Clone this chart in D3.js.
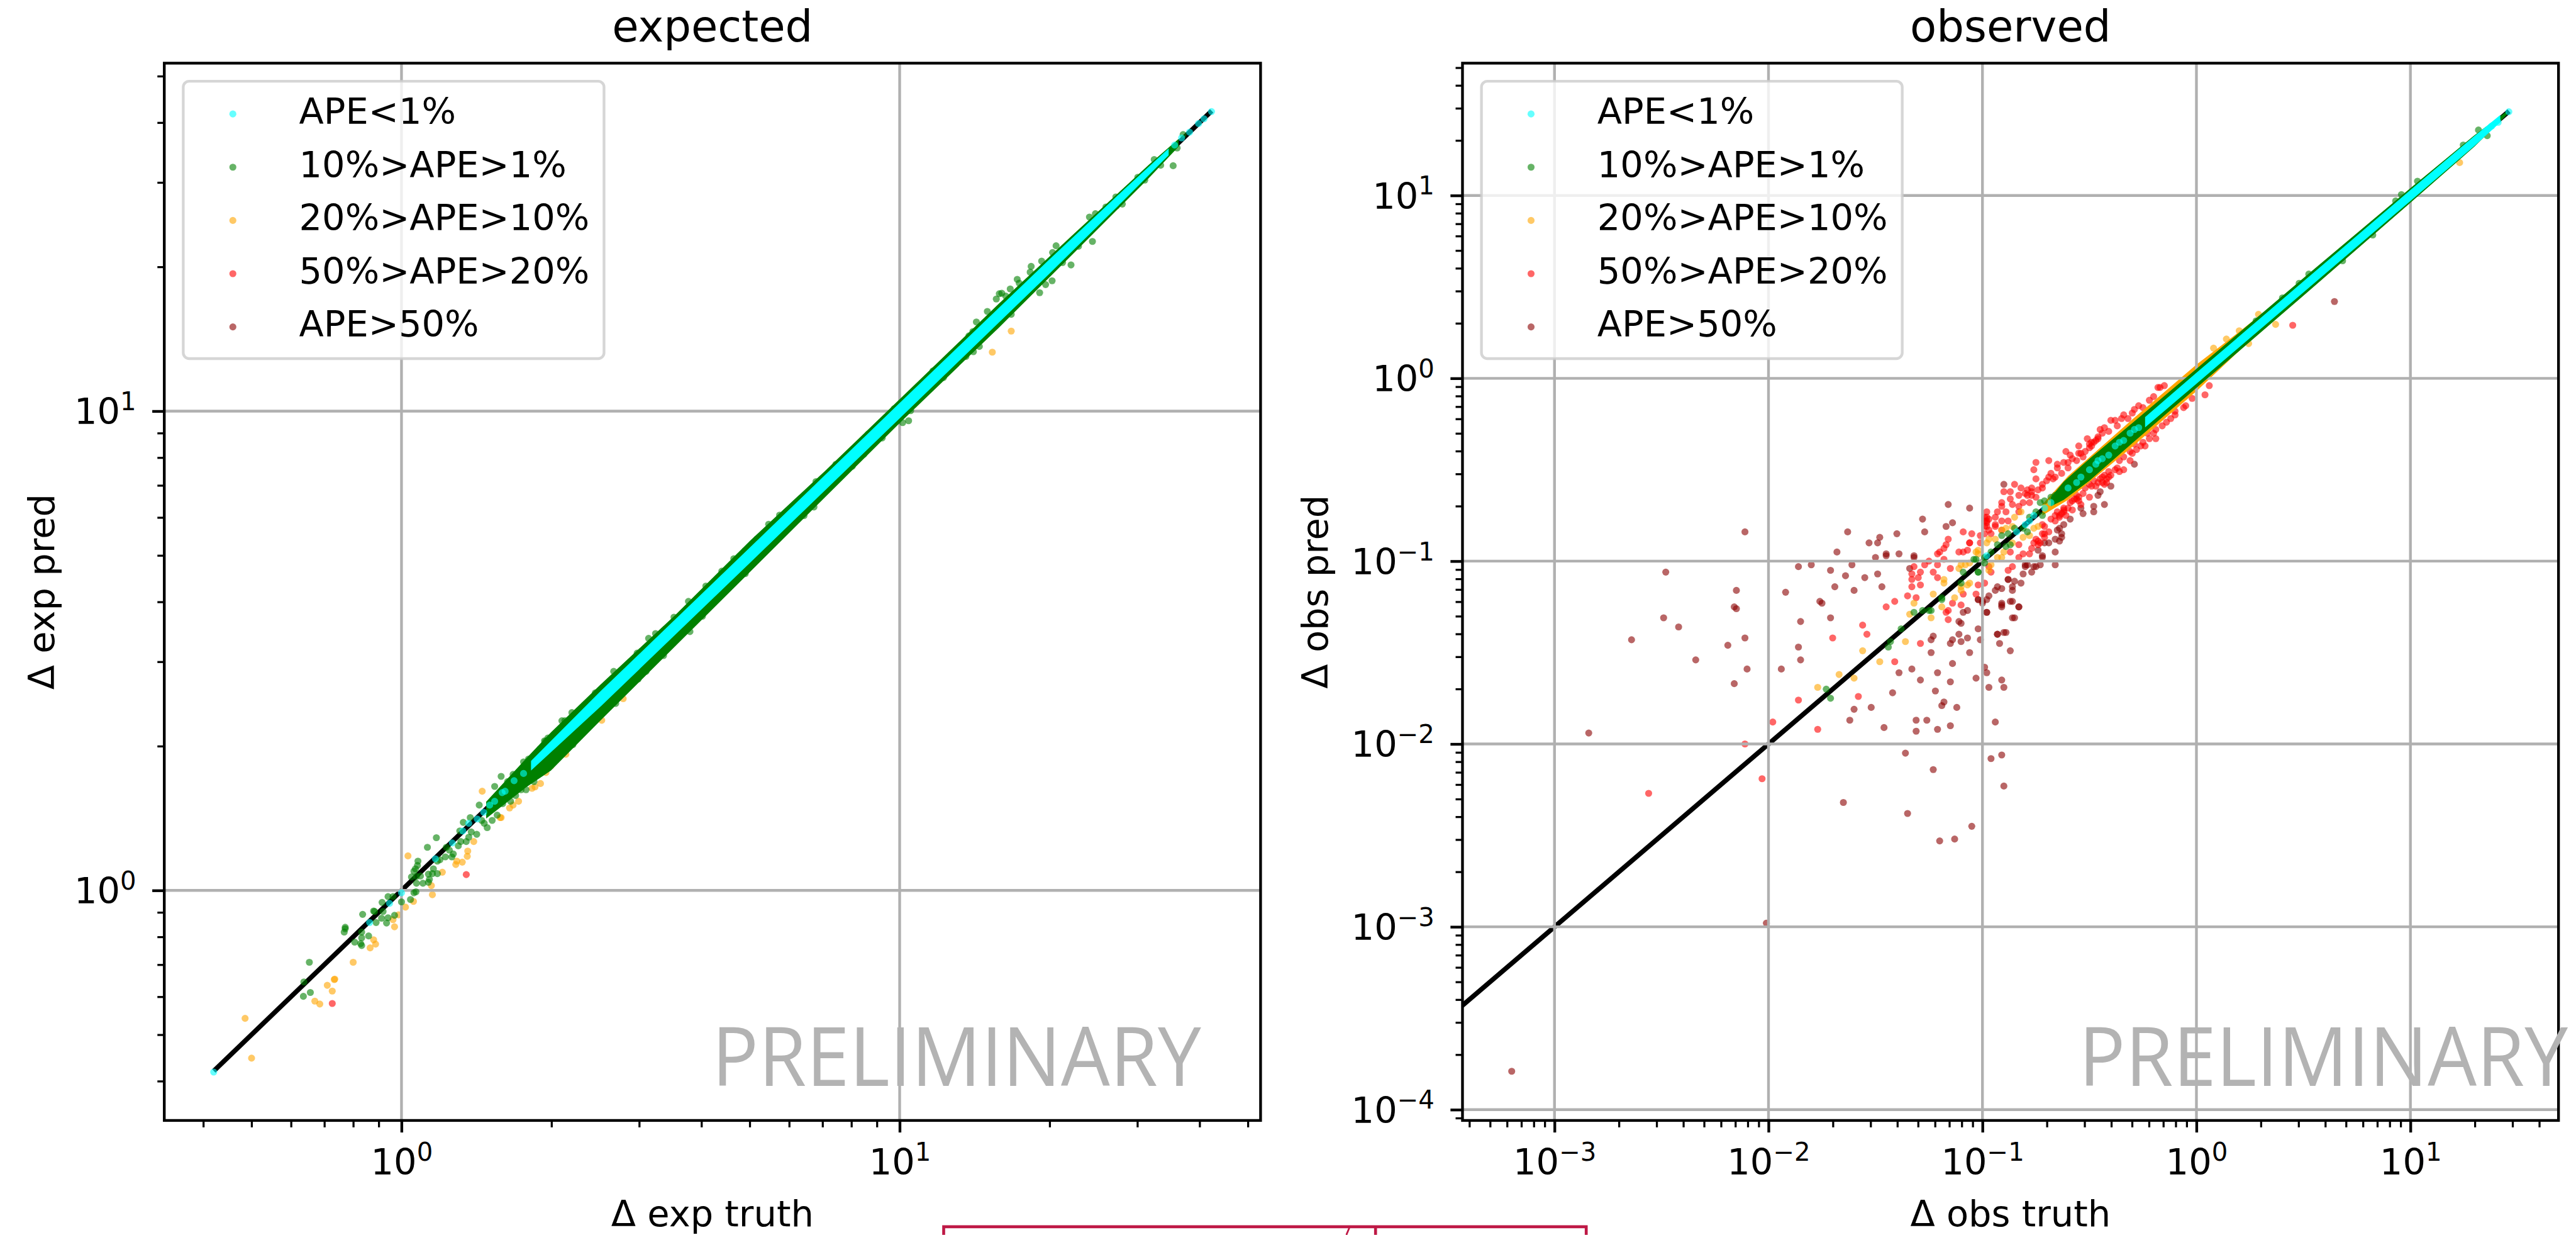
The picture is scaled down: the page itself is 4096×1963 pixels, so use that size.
<!DOCTYPE html>
<html>
<head>
<meta charset="utf-8">
<script src="https://cdn.jsdelivr.net/npm/d3@7"></script>
<style>
  html, body { margin: 0; padding: 0; background: #fff; overflow: hidden; }
  text { font-family: "DejaVu Sans", sans-serif; fill: #000; }
</style>
</head>
<body>
<div id="chart"></div>
<script>
'use strict';

// legend
const legendLabels = ['APE<1%', '10%>APE>1%', '20%>APE>10%', '50%>APE>20%', 'APE>50%'];
const legendColors = ['#00ffff', '#008000', '#ffa500', '#ff0000', '#8b0000'];

// axis limits and decade ticks (limits are log10 of the value)
const expXLimits = [-0.4762, 1.7245];
const expYLimits = [-0.48, 1.726];
const obsXLimits = [-3.43, 1.692];
const obsYLimits = [-4.059, 1.7236];
const expXDecades = [1, 10];
const expYDecades = [1, 10];
const obsXDecades = [0.001, 0.01, 0.1, 1, 10];
const obsYDecades = [0.0001, 0.001, 0.01, 0.1, 1, 10];

// y = x reference lines, real values
const expLine = [0.42, 42.3];
const obsLine = [0.00037, 28.9];

// overplotted solid parts of the clouds: [log10 truth, low log10 pred, high log10 pred]
const expCyanBand = [[0.26, 0.25, 0.27], [0.4, 0.384, 0.416], [0.7, 0.684, 0.716], [1, 0.985, 1.017], [1.3, 1.286, 1.316], [1.45, 1.44, 1.462], [1.54, 1.534, 1.548]];
const expGreenBand = [[0.17, 0.15, 0.185], [0.25, 0.215, 0.275], [0.3, 0.25, 0.33], [0.4, 0.355, 0.43], [0.55, 0.51, 0.575], [0.7, 0.665, 0.73], [0.85, 0.82, 0.875], [1, 0.975, 1.025], [1.2, 1.175, 1.225], [1.35, 1.33, 1.37], [1.5, 1.486, 1.514], [1.56, 1.552, 1.568]];
const obsCyanBand = [[-0.24, -0.268, -0.212], [0, -0.03, 0.03], [0.5, 0.47, 0.53], [1, 0.97, 1.03], [1.3, 1.272, 1.326], [1.42, 1.4, 1.44]];
const obsGreenBand = [[-0.68, -0.7, -0.65], [-0.62, -0.665, -0.565], [-0.5, -0.56, -0.44], [-0.3, -0.355, -0.245], [0, -0.052, 0.052], [0.5, 0.452, 0.548], [1, 0.96, 1.04], [1.3, 1.268, 1.33], [1.45, 1.44, 1.46]];
const obsOrangeBand = [[-0.72, -0.75, -0.69], [-0.6, -0.665, -0.535], [-0.3, -0.375, -0.225], [0, -0.07, 0.075], [0.2, 0.15, 0.255], [0.4, 0.365, 0.44], [0.6, 0.585, 0.62]];

// expected panel points: [log10 truth, log10 pred]
const expCyan = [[-0.377, -0.379], [-0.064, -0.067], [-0.024, -0.027], [0, -0.005], [0.068, 0.066], [0.102, 0.099], [0.123, 0.124], [0.135, 0.14], [0.152, 0.149], [0.165, 0.163], [0.177, 0.178], [0.187, 0.186], [0.202, 0.204], [0.208, 0.207], [0.226, 0.229], [0.245, 0.244], [1.552, 1.555], [1.566, 1.57], [1.582, 1.582], [1.6, 1.6], [1.611, 1.61], [1.626, 1.625]];
const expGreen = [[-0.185, -0.15], [-0.196, -0.191], [-0.183, -0.213], [-0.197, -0.221], [-0.113, -0.077], [-0.115, -0.087], [-0.113, -0.08], [-0.078, -0.05], [-0.056, -0.043], [-0.054, -0.044], [-0.039, -0.025], [-0.027, -0.013], [-0.017, -0.013], [0, -0.024], [-0.037, -0.044], [-0.04, -0.058], [-0.027, -0.057], [-0.014, -0.052], [-0.03, -0.068], [-0.051, -0.067], [-0.066, -0.095], [-0.08, -0.087], [-0.08, -0.099], [-0.094, -0.108], [-0.082, -0.111], [-0.08, -0.115], [0.018, -0.019], [0.025, -0.005], [0.029, -0.003], [0.02, 0.028], [0.03, 0.015], [0.043, 0.015], [0.03, 0.029], [0.038, 0.03], [0.025, 0.04], [0.028, 0.045], [0.032, 0.052], [0.033, 0.061], [0.054, 0.017], [0.056, 0.023], [0.054, 0.034], [0.062, 0.035], [0.064, 0.045], [0.072, 0.035], [0.052, 0.09], [0.07, 0.11], [0.072, 0.061], [0.077, 0.064], [0.088, 0.07], [0.101, 0.07], [0.096, 0.084], [0.09, 0.09], [0.104, 0.076], [0.114, 0.093], [0.119, 0.102], [0.13, 0.102], [0.135, 0.111], [0.14, 0.122], [0.151, 0.117], [0.124, 0.142], [0.138, 0.152], [0.117, 0.124], [0.156, 0.178], [0.166, 0.14], [0.172, 0.131], [0.182, 0.146], [0.192, 0.157], [0.203, 0.181], [0.161, 0.146], [0.2, 0.238], [0.187, 0.217], [0.224, 0.242], [0.213, 0.227], [0.211, 0.198], [0.219, 0.186], [0.229, 0.198], [0.24, 0.21], [0.25, 0.21], [0.266, 0.227], [0.245, 0.268], [0.255, 0.274], [0.287, 0.312], [0.294, 0.318], [0.289, 0.311], [0.278, 0.295], [0.342, 0.371], [0.322, 0.354], [0.328, 0.354], [0.389, 0.412], [0.426, 0.457], [0.496, 0.526], [0.51, 0.536], [0.473, 0.495], [0.611, 0.635], [0.576, 0.603], [0.547, 0.57], [0.526, 0.49], [0.579, 0.54], [0.604, 0.572], [0.491, 0.457], [0.475, 0.441], [0.43, 0.39], [0.344, 0.304], [0.65, 0.625], [0.69, 0.661], [0.69, 0.709], [0.667, 0.692], [0.643, 0.666], [0.713, 0.733], [0.737, 0.764], [0.759, 0.783], [0.828, 0.8], [0.808, 0.782], [0.832, 0.853], [0.872, 0.889], [0.905, 0.885], [0.928, 0.91], [0.965, 0.944], [0.937, 0.952], [1.006, 0.976], [1.018, 0.98], [1.022, 1.001], [0.989, 1.005], [1.088, 1.07], [1.067, 1.084], [1.133, 1.114], [1.16, 1.135], [1.148, 1.124], [1.139, 1.157], [1.147, 1.166], [1.154, 1.186], [1.176, 1.208], [1.224, 1.202], [1.194, 1.234], [1.2, 1.245], [1.205, 1.246], [1.213, 1.24], [1.222, 1.255], [1.236, 1.275], [1.24, 1.267], [1.264, 1.302], [1.262, 1.29], [1.281, 1.247], [1.285, 1.313], [1.306, 1.272], [1.293, 1.264], [1.307, 1.331], [1.314, 1.345], [1.344, 1.305], [1.327, 1.31], [1.387, 1.354], [1.381, 1.405], [1.393, 1.412], [1.359, 1.344], [1.435, 1.428], [1.447, 1.432], [1.434, 1.447], [1.414, 1.426], [1.492, 1.482], [1.478, 1.488], [1.549, 1.512], [1.524, 1.513], [1.511, 1.525], [1.557, 1.549], [1.569, 1.577]];
const expOrange = [[-0.314, -0.267], [-0.301, -0.35], [-0.097, -0.15], [-0.134, -0.185], [-0.135, -0.186], [-0.149, -0.198], [-0.139, -0.21], [-0.174, -0.231], [-0.164, -0.237], [-0.056, -0.103], [-0.052, -0.112], [-0.063, -0.12], [-0.017, -0.061], [-0.014, -0.076], [-0.006, -0.051], [0.008, -0.035], [0.024, -0.023], [0.062, -0.009], [0.06, 0.01], [0.013, 0.072], [0.082, 0.038], [0.109, 0.054], [0.111, 0.061], [0.122, 0.059], [0.132, 0.071], [0.133, 0.082], [0.145, 0.102], [0.162, 0.207], [0.198, 0.152], [0.2, 0.152], [0.217, 0.172], [0.224, 0.178], [0.235, 0.186], [0.262, 0.213], [0.268, 0.216], [0.279, 0.223], [0.29, 0.246], [0.3, 0.26], [0.33, 0.284], [0.402, 0.355], [0.445, 0.4], [1.186, 1.123], [1.224, 1.167]];
const expRed = [[-0.139, -0.236], [0.13, 0.033]];

// observed panel points: [log10 truth, log10 pred]
const obsCyan = [[-0.98, -0.97], [-0.84, -0.84], [-0.8, -0.8], [-0.78, -0.78], [-0.76, -0.75], [-0.71, -0.71], [-0.68, -0.68], [-0.6, -0.6], [-0.56, -0.57], [-0.54, -0.54], [-0.5, -0.5], [-0.47, -0.47], [-0.46, -0.45], [-0.44, -0.44], [-0.41, -0.42], [-0.38, -0.37], [-0.36, -0.35], [-0.34, -0.34], [-0.31, -0.3], [-0.29, -0.28], [-0.27, -0.27], [1.38, 1.38], [1.41, 1.4], [1.46, 1.458]];
const obsGreen = [[-1.32, -1.28], [-1.28, -1.27], [-1.25, -1.27], [-1.24, -1.27], [-1.19, -1.2], [-1.19, -1.21], [-1.1, -1.12], [-1.09, -1.06], [-1.02, -1.06], [-1.04, -0.99], [-1.73, -1.7], [-1.71, -1.75], [-1.38, -1.37], [-1.43, -1.44], [-1.44, -1.47], [-0.99, -0.98], [-0.96, -0.95], [-0.93, -0.91], [-0.91, -0.86], [-0.88, -0.85], [-0.89, -0.92], [-0.87, -0.91], [-0.85, -0.82], [-0.81, -0.82], [-0.79, -0.84], [-0.78, -0.76], [-0.75, -0.73], [-0.72, -0.75], [-0.73, -0.68], [-0.71, -0.67], [-0.68, -0.65], [-0.66, -0.64], [-1.02, -1.06], [-1.03, -0.99], [-0.99, -1.01], [1.318, 1.358], [1.359, 1.327], [1.247, 1.276], [1.033, 1.078], [0.958, 1.005], [0.931, 0.97], [0.824, 0.784], [0.683, 0.643], [0.525, 0.57], [0.48, 0.52], [0.402, 0.44], [0.279, 0.314]];
const obsOrange = [[-1.77, -1.69], [-1.67, -1.62], [-1.6, -1.64], [-1.56, -1.49], [-1.48, -1.55], [-1.36, -1.44], [-1.34, -1.29], [-1.32, -1.23], [-1.23, -1.18], [-1.24, -1.31], [-1.19, -1.25], [-1.13, -1.2], [-1.18, -1.1], [-1.18, -1.12], [-1.1, -1.16], [-1.1, -1.14], [-1.07, -1.13], [-1.06, -1.12], [-1.11, -1.04], [-1.1, -1.02], [-1.08, -1.02], [-1.06, -1.01], [-1.02, -0.94], [-1.03, -0.95], [-1.02, -0.96], [-0.97, -0.88], [-0.94, -0.88], [-0.98, -0.9], [-0.9, -0.95], [-0.93, -0.98], [-0.91, -0.98], [-0.86, -0.9], [-0.81, -0.87], [-0.78, -0.86], [-0.76, -0.82], [-0.74, -0.81], [-0.91, -0.83], [-0.89, -0.82], [-0.86, -0.81], [-0.85, -0.76], [-0.82, -0.73], [-0.96, -1.02], [-0.97, -1.05], [0.37, 0.295], [0.29, 0.35], [0.2, 0.26], [0.08, 0.165], [0.14, 0.215], [1.23, 1.18], [0.244, 0.19]];
const obsRed = [[-0.18, -0.05], [-0.29, -0.17], [-0.32, -0.22], [-0.3, -0.19], [-0.4, -0.23], [-0.38, -0.23], [-0.37, -0.26], [-0.45, -0.28], [-0.41, -0.29], [-0.51, -0.33], [-0.46, -0.33], [-0.49, -0.35], [-0.55, -0.37], [-0.5, -0.38], [-0.52, -0.4], [-0.54, -0.41], [-0.53, -0.43], [-0.61, -0.4], [-0.59, -0.42], [-0.56, -0.45], [-0.69, -0.45], [-0.65, -0.47], [-0.62, -0.46], [-0.6, -0.49], [-0.65, -0.49], [-0.63, -0.52], [-0.68, -0.52], [-0.66, -0.54], [-0.69, -0.54], [-0.75, -0.46], [-0.76, -0.5], [-0.75, -0.55], [-0.72, -0.58], [-0.74, -0.61], [-0.85, -0.58], [-0.9, -0.62], [-0.87, -0.62], [-0.82, -0.6], [-0.87, -0.66], [-0.83, -0.64], [-0.77, -0.6], [-0.77, -0.62], [-0.79, -0.64], [-0.81, -0.68], [-0.75, -0.65], [-0.91, -0.68], [-0.91, -0.7], [-0.86, -0.69], [-0.83, -0.7], [-0.78, -0.68], [-0.83, -0.73], [-0.93, -0.73], [-0.89, -0.73], [-0.98, -0.73], [-0.98, -0.76], [-0.99, -0.76], [-0.94, -0.76], [-0.91, -0.78], [-0.88, -0.78], [-0.94, -0.8], [-0.98, -0.78], [-0.98, -0.81], [-0.94, -0.81], [-0.97, -0.83], [-0.91, -0.83], [-0.96, -0.85], [-0.99, -0.85], [-1.01, -0.86], [-1.01, -0.9], [-1.09, -0.84], [-1.05, -0.85], [-1.16, -0.88], [-1.17, -0.91], [-1.06, -0.9], [-1.06, -0.9], [-1.18, -0.93], [-1.2, -0.95], [-1.21, -0.96], [-1.11, -0.95], [-1.09, -0.95], [-1.07, -0.94], [-1.18, -0.99], [-1.25, -1], [-1.32, -1.03], [-1.27, -1.02], [-1.21, -1.02], [-1.15, -1.04], [-1.33, -1.07], [-1.29, -1.06], [-1.23, -1.06], [-1.3, -1.09], [-1.21, -1.09], [-1.33, -1.1], [-1.29, -1.13], [-1.33, -1.14], [-1.35, -1.19], [-1.31, -1.2], [-1.41, -1.22], [-1.45, -1.25], [-0.19, -0.33], [-0.19, -0.28], [-0.23, -0.3], [-0.26, -0.37], [-0.24, -0.37], [-0.29, -0.36], [-0.31, -0.4], [-0.34, -0.43], [-0.36, -0.45], [-0.31, -0.45], [-0.37, -0.49], [-0.36, -0.51], [-0.34, -0.5], [-0.41, -0.51], [-0.4, -0.53], [-0.44, -0.54], [-0.42, -0.57], [-0.46, -0.57], [-0.48, -0.56], [-0.5, -0.58], [-0.49, -0.59], [-0.52, -0.6], [-0.53, -0.63], [-0.56, -0.64], [-0.5, -0.65], [-0.57, -0.66], [-0.59, -0.68], [-0.54, -0.69], [-0.62, -0.71], [-0.62, -0.73], [-0.65, -0.73], [-0.61, -0.75], [-0.66, -0.75], [-0.64, -0.76], [-0.68, -0.77], [-0.66, -0.78], [-0.72, -0.8], [-0.71, -0.81], [-0.69, -0.84], [-0.71, -0.85], [-0.72, -0.85], [-0.71, -0.87], [-0.75, -0.88], [-0.76, -0.9], [-0.74, -0.91], [-0.77, -0.93], [-0.78, -0.96], [-0.81, -0.96], [-0.87, -0.95], [-0.83, -0.98], [-0.86, -1.03], [-0.88, -1.05], [-0.83, -0.91], [-0.97, -1.03], [-0.96, -1.06], [-0.99, -1.12], [-1.02, -1.13], [-1.03, -1.18], [-1.09, -1.18], [-1.14, -1.23], [-1.1, -1.24], [-1.16, -1.27], [-1.17, -1.28], [-1.16, -1.32], [-0.43, -0.53], [-0.42, -0.55], [-0.44, -0.57], [-0.41, -0.54], [-0.45, -0.55], [-0.43, -0.58], [-0.62, -0.72], [-0.63, -0.74], [-0.6, -0.71], [-0.64, -0.75], [-0.58, -0.67], [-0.56, -0.66], [-0.55, -0.65], [-0.8, -0.63], [-0.79, -0.61], [-0.77, -0.64], [-0.99, -0.78], [-0.98, -0.79], [-0.99, -0.81], [-0.97, -0.77], [-0.5, -0.36], [-0.49, -0.37], [-0.48, -0.35], [-0.46, -0.32], [-0.73, -0.9], [-0.74, -0.89], [-1.56, -1.35], [-1.54, -1.4], [-1.7, -1.42], [-1.41, -1.55], [-1.58, -1.74], [-1.86, -1.76], [-1.98, -1.88], [-1.77, -1.92], [-2.11, -2], [-1.29, -1.45], [-2.56, -2.27], [-2.03, -2.19], [0.45, 0.29], [0.06, -0.04], [0.04, -0.09], [-0.17, -0.05], [-0.15, -0.04], [-0.05, -0.15], [-0.02, -0.11], [-0.6, -0.46], [-0.58, -0.44], [-0.55, -0.41], [-0.47, -0.34], [-0.44, -0.3], [-0.43, -0.27], [-0.35, -0.22], [-0.34, -0.2], [-0.27, -0.15], [-0.25, -0.16], [-0.22, -0.12], [-0.2, -0.1], [-0.7, -0.56], [-0.72, -0.6], [-0.67, -0.55], [-0.3, -0.41], [-0.28, -0.39], [-0.25, -0.35], [-0.22, -0.33], [-0.2, -0.3], [-0.16, -0.26], [-0.14, -0.24], [-0.12, -0.22], [-0.1, -0.2], [-0.38, -0.5], [-0.47, -0.59], [-0.55, -0.67], [-0.58, -0.72], [-0.1, -0.18], [-0.06, -0.16]];
const obsBrown = [[-2.11, -0.84], [-1.63, -0.84], [-1.68, -0.95], [-1.53, -0.9], [-1.48, -0.87], [-1.49, -0.9], [-1.4, -0.85], [-1.45, -0.96], [-1.45, -0.97], [-1.39, -0.96], [-1.5, -0.98], [-1.28, -0.77], [-1.27, -0.84], [-1.17, -0.81], [-1.14, -0.79], [-1.16, -0.69], [-1.06, -0.71], [-1.32, -0.97], [-1.32, -0.98], [-1.86, -1.03], [-1.8, -1.02], [-1.71, -1.05], [-1.61, -1.02], [-1.64, -1.08], [-1.55, -1.09], [-1.49, -1.07], [-1.69, -1.14], [-1.6, -1.16], [-1.47, -1.14], [-1.34, -1.04], [-2.15, -1.16], [-1.92, -1.17], [-2.16, -1.25], [-2.15, -1.26], [-1.76, -1.22], [-1.75, -1.23], [-1.85, -1.33], [-1.71, -1.31], [-2.11, -1.42], [-2.19, -1.46], [-1.86, -1.47], [-1.85, -1.54], [-2.1, -1.59], [-1.94, -1.59], [-2.16, -1.67], [-1.02, -1.21], [-1, -1.22], [-1.09, -1.28], [-1.07, -1.27], [-1.11, -1.33], [-1.1, -1.34], [-1.02, -1.37], [-1.11, -1.4], [-1.07, -1.42], [-1.23, -1.41], [-1.24, -1.43], [-1.01, -1.43], [-1.14, -1.43], [-1.15, -1.45], [-1.1, -1.44], [-1.24, -1.5], [-1.06, -1.5], [-1.14, -1.56], [-1.33, -1.59], [-1.39, -1.61], [-1.21, -1.61], [-1.29, -1.65], [-1.15, -1.66], [-1.03, -1.64], [-1.42, -1.72], [-1.22, -1.71], [-1.18, -1.77], [-1.19, -1.79], [-1.12, -1.8], [-1.6, -1.81], [-1.52, -1.8], [-1.62, -1.87], [-1.46, -1.91], [-1.31, -1.87], [-1.26, -1.87], [-1.31, -1.93], [-1.21, -1.92], [-1.15, -1.9], [-1.36, -2.05], [-0.96, -2.08], [-0.91, -2.06], [-1.23, -2.14], [-0.9, -2.23], [-1.65, -2.32], [-1.35, -2.38], [-1.05, -2.45], [-1.2, -2.53], [-1.13, -2.52], [-2.84, -1.94], [-0.94, -1.88], [-0.9, -1.69], [-0.97, -1.69], [-0.91, -1.65], [-0.98, -1.61], [-0.99, -1.58], [-0.87, -1.49], [-0.92, -1.45], [-0.9, -1.39], [-0.93, -1.4], [-0.86, -1.31], [-0.83, -1.25], [-0.87, -1.22], [-0.98, -1.28], [-0.91, -1.24], [-2.48, -1.06], [-2.49, -1.31], [-2.42, -1.36], [-2.64, -1.43], [-2.34, -1.54], [-3.2, -3.79], [-2.01, -2.98], [0.645, 0.42], [-0.9, -0.58], [-0.29, -0.47], [-0.4, -0.59], [-0.46, -0.64], [-0.45, -0.62], [-0.43, -0.69], [-0.48, -0.7], [-0.48, -0.73], [-0.54, -0.71], [-0.53, -0.74], [-0.59, -0.77], [-0.62, -0.8], [-0.64, -0.82], [-0.65, -0.83], [-0.63, -0.85], [-0.66, -0.88], [-0.63, -0.87], [-0.64, -0.89], [-0.69, -0.9], [-0.71, -0.9], [-0.66, -0.95], [-0.74, -0.94], [-0.72, -0.97], [-0.72, -0.98], [-0.66, -1.02], [-0.73, -1.02], [-0.75, -1.03], [-0.76, -1.03], [-0.79, -1.02], [-0.8, -1.02], [-0.8, -1.03], [-0.77, -1.06], [-0.81, -1.07], [-0.88, -1.1], [-0.88, -1.1], [-0.85, -1.11], [-0.86, -1.14], [-0.86, -1.16], [-0.82, -1.12], [-0.91, -1.15], [-0.93, -1.14], [-0.94, -1.16], [-0.97, -1.19], [-0.98, -1.21], [-1.02, -1.21], [-1, -1.23], [-0.86, -1.22], [-0.91, -1.23], [-0.91, -1.25], [-0.83, -1.25], [-0.85, -1.31], [-0.98, -1.28], [-0.89, -1.39], [-0.93, -1.4]];

// page is laid out in the reference's own pixels, the viewBox does the 0.927
const svg = d3.select('#chart').append('svg')
    .attr('width', 4096)
    .attr('height', 1963)
    .attr('viewBox', '0 0 4414 2115')
    .style('display', 'block');

const fontSize = 61.9;
const dotRadius = 6;
const axesTop = 108, axesBottom = 1919;

function exponentLabel(sel, value) {
    let e = Math.round(Math.log10(value));
    sel.text(null);
    sel.append('tspan').text('10');
    sel.append('tspan')
        .attr('dy', -24)
        .attr('font-size', fontSize * 0.7)
        .text(String(e).replace('-', '\u2212'));
}

function isDecade(v) {
    let l = Math.log10(v);
    return Math.abs(l - Math.round(l)) < 1e-9;
}

function drawPanel(p) {
    let x = d3.scaleLog()
        .domain(p.xLimits.map(v => Math.pow(10, v)))
        .range([p.left, p.right]);
    let y = d3.scaleLog()
        .domain(p.yLimits.map(v => Math.pow(10, v)))
        .range([axesBottom, axesTop]);
    let px = d => x(Math.pow(10, d[0]));
    let py = d => y(Math.pow(10, d[1]));

    let clipId = 'clip-' + p.name;
    svg.append('clipPath').attr('id', clipId)
        .append('rect')
        .attr('x', p.left).attr('y', axesTop)
        .attr('width', p.right - p.left).attr('height', axesBottom - axesTop);

    let plot = svg.append('g').attr('clip-path', 'url(#' + clipId + ')');

    let band = d3.area()
        .x(d => x(Math.pow(10, d[0])))
        .y0(d => y(Math.pow(10, d[1])))
        .y1(d => y(Math.pow(10, d[2])));

    function dots(data, color) {
        plot.append('g').selectAll('circle')
            .data(data)
            .join('circle')
            .attr('cx', px)
            .attr('cy', py)
            .attr('r', dotRadius)
            .attr('fill', color)
            .attr('fill-opacity', 0.6);
    }

    function solid(data, color) {
        if (!data) return;
        plot.append('path').datum(data).attr('d', band).attr('fill', color);
    }

    // y = x line
    plot.append('line')
        .attr('x1', x(p.line[0])).attr('y1', y(p.line[0]))
        .attr('x2', x(p.line[1])).attr('y2', y(p.line[1]))
        .attr('stroke', '#000')
        .attr('stroke-width', 8.2);

    if (p.brown) dots(p.brown, legendColors[4]);
    dots(p.red, legendColors[3]);
    solid(p.orangeBand, legendColors[2]);
    dots(p.orange, legendColors[2]);

    // grid sits over the outliers but under the green and cyan clouds
    let xAll = x.ticks(30), yAll = y.ticks(30);
    plot.append('g').selectAll('line')
        .data(p.xDecades)
        .join('line')
        .attr('x1', d => x(d)).attr('x2', d => x(d))
        .attr('y1', axesTop).attr('y2', axesBottom)
        .attr('stroke', '#b0b0b0').attr('stroke-width', 4.7);
    plot.append('g').selectAll('line')
        .data(p.yDecades)
        .join('line')
        .attr('y1', d => y(d)).attr('y2', d => y(d))
        .attr('x1', p.left).attr('x2', p.right)
        .attr('stroke', '#b0b0b0').attr('stroke-width', 4.7);

    solid(p.greenBand, legendColors[1]);
    dots(p.green, legendColors[1]);
    solid(p.cyanBand, legendColors[0]);
    dots(p.cyan, legendColors[0]);

    // minor ticks
    svg.append('g')
        .attr('transform', 'translate(0,' + axesBottom + ')')
        .call(d3.axisBottom(x).tickValues(xAll.filter(v => !isDecade(v))).tickSize(11.8).tickFormat(''))
        .call(g => g.select('.domain').remove())
        .selectAll('line').attr('stroke', '#000').attr('stroke-width', 3.5);
    svg.append('g')
        .attr('transform', 'translate(' + p.left + ',0)')
        .call(d3.axisLeft(y).tickValues(yAll.filter(v => !isDecade(v))).tickSize(11.8).tickFormat(''))
        .call(g => g.select('.domain').remove())
        .selectAll('line').attr('stroke', '#000').attr('stroke-width', 3.5);

    // major ticks
    let xAxis = svg.append('g')
        .attr('transform', 'translate(0,' + axesBottom + ')')
        .call(d3.axisBottom(x).tickValues(p.xDecades).tickSize(20.6).tickFormat(''));
    xAxis.select('.domain').remove();
    xAxis.selectAll('line').attr('stroke', '#000').attr('stroke-width', 4.7);
    xAxis.selectAll('.tick text')
        .attr('y', 93)
        .attr('dy', 0)
        .attr('font-size', fontSize)
        .attr('text-anchor', 'middle')
        .each(function(d) { exponentLabel(d3.select(this), d); });

    let yAxis = svg.append('g')
        .attr('transform', 'translate(' + p.left + ',0)')
        .call(d3.axisLeft(y).tickValues(p.yDecades).tickSize(20.6).tickFormat(''));
    yAxis.select('.domain').remove();
    yAxis.selectAll('line').attr('stroke', '#000').attr('stroke-width', 4.7);
    yAxis.selectAll('.tick text')
        .attr('x', -48)
        .attr('dy', 22)
        .attr('font-size', fontSize)
        .attr('text-anchor', 'end')
        .each(function(d) { exponentLabel(d3.select(this), d); });

    // spines
    svg.append('rect')
        .attr('x', p.left).attr('y', axesTop)
        .attr('width', p.right - p.left).attr('height', axesBottom - axesTop)
        .attr('fill', 'none')
        .attr('stroke', '#000')
        .attr('stroke-width', 4.7);

    // legend
    let lx = p.left + 32.5;
    svg.append('rect')
        .attr('x', lx).attr('y', 139)
        .attr('width', 721).attr('height', 475)
        .attr('rx', 10)
        .attr('fill', '#fff').attr('fill-opacity', 0.8)
        .attr('stroke', '#ccc').attr('stroke-opacity', 0.8)
        .attr('stroke-width', 4.7);
    legendLabels.forEach(function(label, i) {
        let ly = 195 + i * 91.2;
        svg.append('circle')
            .attr('cx', lx + 85).attr('cy', ly)
            .attr('r', dotRadius)
            .attr('fill', legendColors[i]).attr('fill-opacity', 0.6);
        svg.append('text')
            .attr('x', lx + 198.5).attr('y', ly + 17)
            .attr('font-size', fontSize)
            .text(label);
    });

    // titles
    let mid = (p.left + p.right) / 2;
    svg.append('text')
        .attr('x', mid).attr('y', 70.5)
        .attr('text-anchor', 'middle')
        .attr('font-size', fontSize * 1.2)
        .text(p.title);
    svg.append('text')
        .attr('x', mid).attr('y', 2100)
        .attr('text-anchor', 'middle')
        .attr('font-size', fontSize)
        .text(p.xLabel);
    svg.append('text')
        .attr('transform', 'translate(' + p.yLabelX + ',' + (axesTop + axesBottom) / 2 + ') rotate(-90)')
        .attr('text-anchor', 'middle')
        .attr('font-size', fontSize)
        .text(p.yLabel);

    // watermark, squeezed sideways to the reference's width
    let mark = svg.append('text')
        .attr('font-size', 141)
        .style('font-family', '"Open Sans", sans-serif')
        .style('fill', '#b3b3b3')
        .text('PRELIMINARY');
    let markScale = 838 / mark.node().getComputedTextLength();
    mark.attr('transform', 'translate(' + p.markX + ',1860) scale(' + markScale + ',1)');
}

drawPanel({
    name: 'exp', title: 'expected', xLabel: '\u0394 exp truth', yLabel: '\u0394 exp pred',
    left: 281.5, right: 2160, yLabelX: 93, markX: 1220,
    xLimits: expXLimits, yLimits: expYLimits, xDecades: expXDecades, yDecades: expYDecades,
    line: expLine, cyan: expCyan, green: expGreen, orange: expOrange, red: expRed,
    cyanBand: expCyanBand, greenBand: expGreenBand
});

drawPanel({
    name: 'obs', title: 'observed', xLabel: '\u0394 obs truth', yLabel: '\u0394 obs pred',
    left: 2506, right: 4384, yLabelX: 2275, markX: 3562,
    xLimits: obsXLimits, yLimits: obsYLimits, xDecades: obsXDecades, yDecades: obsYDecades,
    line: obsLine, cyan: obsCyan, green: obsGreen, orange: obsOrange, red: obsRed, brown: obsBrown,
    cyanBand: obsCyanBand, greenBand: obsGreenBand, orangeBand: obsOrangeBand
});

// crimson frame cut off by the bottom edge of the page
svg.append('path')
    .attr('d', 'M1617,2115V2101H2718V2115M2357,2115V2101')
    .attr('fill', 'none')
    .attr('stroke', '#be1845')
    .attr('stroke-width', 5);
svg.append('path')
    .attr('d', 'M2307,2115L2312,2103')
    .attr('fill', 'none')
    .attr('stroke', '#be1845')
    .attr('stroke-width', 3);
</script>
</body>
</html>
